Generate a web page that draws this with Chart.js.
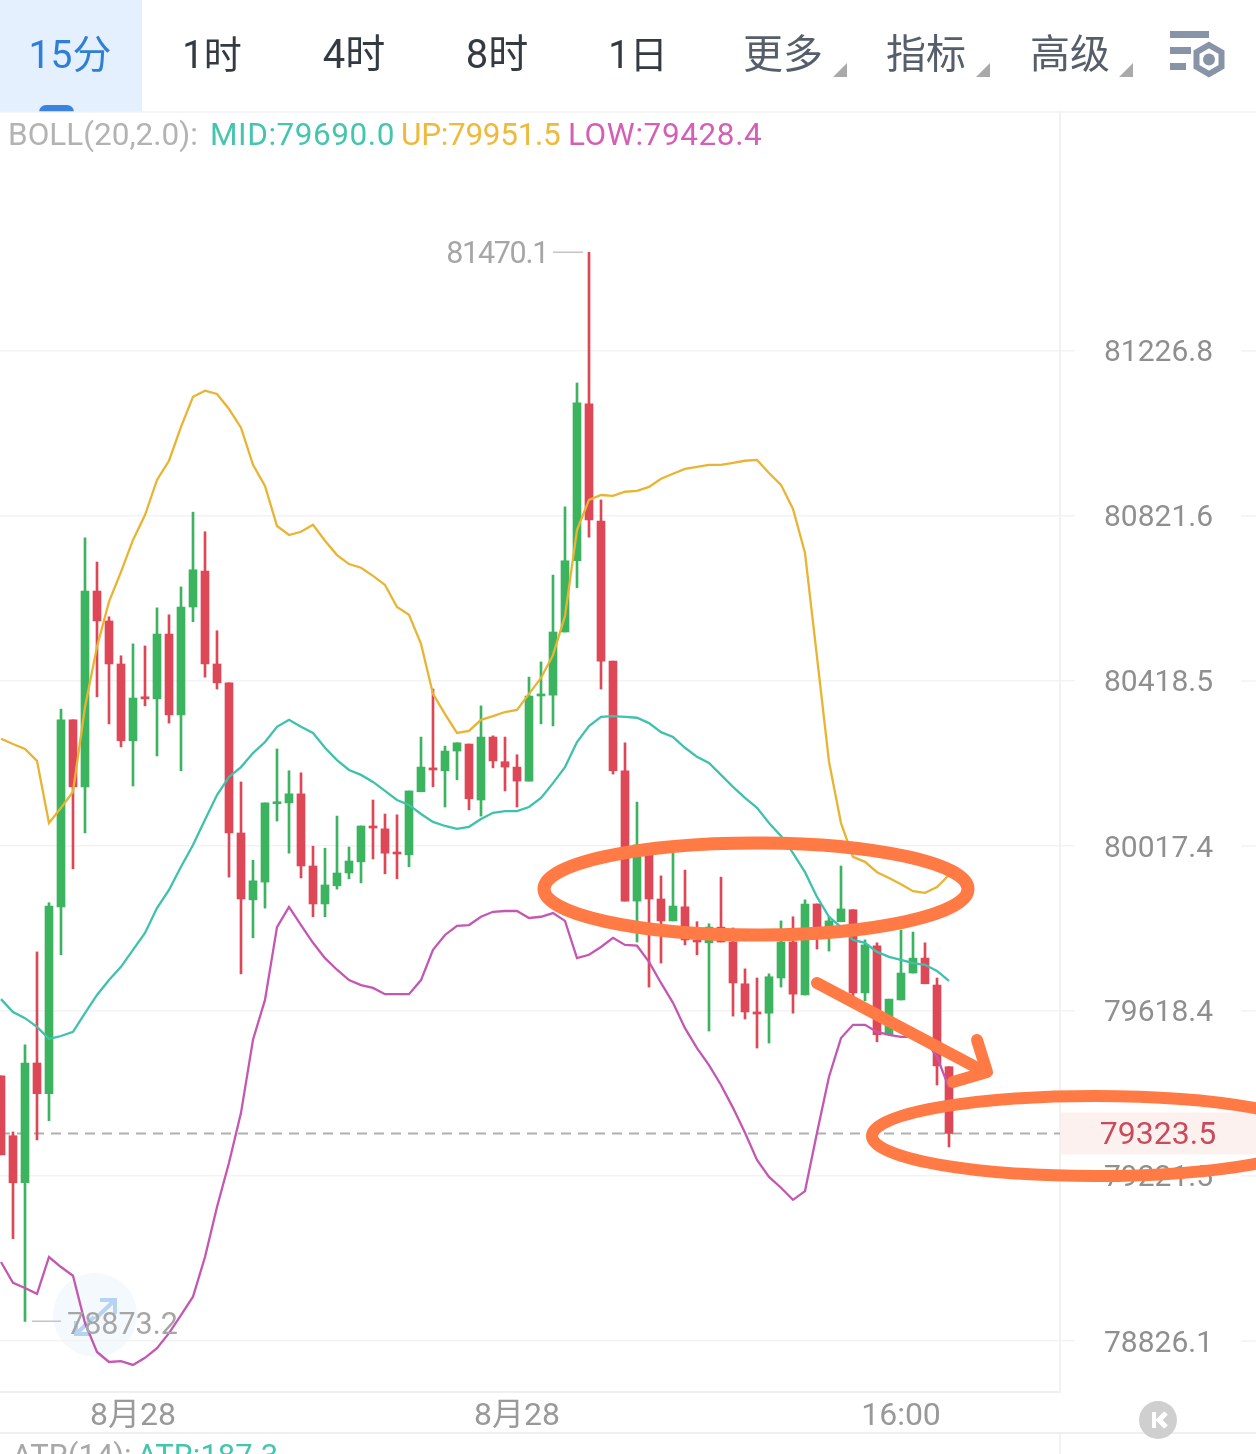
<!DOCTYPE html>
<html><head><meta charset="utf-8">
<script src="https://cdn.jsdelivr.net/npm/chart.js@4/dist/chart.umd.min.js"></script>
<style>
html,body{margin:0;padding:0;background:#fff;width:1256px;height:1454px;overflow:hidden}
#wrap{position:relative;width:1256px;height:1454px;overflow:hidden;font-family:Roboto,"Noto Sans CJK SC",sans-serif}
#c{position:absolute;left:0;top:0;z-index:2}
.under{position:absolute;left:0;top:0;z-index:1}
.over{position:absolute;left:0;top:0;z-index:4;pointer-events:none}
.tab{position:absolute;top:27px;height:56px;line-height:56px;font-size:40px;transform:translateX(-50%);white-space:nowrap;color:#333a42;z-index:3}
.tab.more{color:#555e6a}
.leg{position:absolute;top:115px;line-height:40px;font-size:31.5px;white-space:nowrap;z-index:3}
.atr{position:absolute;top:1437px;line-height:38px;font-size:31px;white-space:nowrap;z-index:3}
</style></head><body>
<div id="wrap">
<svg class="under" width="1256" height="1454">
  <rect x="0" y="0" width="142" height="112" fill="#e4f0fd"/>
  <path d="M39 112V112a7 7 0 0 1 7-7h21a7 7 0 0 1 7 7z" fill="#3b83de"/>
  <circle cx="95" cy="1315" r="42" fill="#f4f9fe"/>
  <path d="M100 1300h15v14M115 1300l-20 19" fill="none" stroke="#b7d3f3" stroke-width="4"/>
  <path d="M76 1321v13h14M76 1334l18-17" fill="none" stroke="#b7d3f3" stroke-width="4"/>
</svg>
<canvas id="c" width="1256" height="1454"></canvas>
<div class="tab" style="left:70px;color:#2f7fd6;font-size:39px">15分</div>
<div class="tab" style="left:212px;font-size:38px">1时</div>
<div class="tab" style="left:354px">4时</div>
<div class="tab" style="left:497px">8时</div>
<div class="tab" style="left:638px;font-size:38px">1日</div>
<div class="tab more" style="left:783px">更多</div>
<div class="tab more" style="left:926px">指标</div>
<div class="tab more" style="left:1070px">高级</div>
<div class="leg" style="left:8px;color:#b3b3b3">BOLL(20,2.0):</div>
<div class="leg" style="left:210px;color:#45c5ae;letter-spacing:.55px">MID:79690.0</div>
<div class="leg" style="left:401px;color:#efb93c;letter-spacing:-.3px">UP:79951.5</div>
<div class="leg" style="left:568px;color:#d45fb6;letter-spacing:.6px">LOW:79428.4</div>
<div class="atr" style="left:12px;color:#a8a8a8">ATR(14):</div>
<div class="atr" style="left:137px;color:#45c5ae">ATR:187.3</div>
<svg class="over" width="1256" height="1454">
  <path d="M833 77h14v-14z M976 77h14v-14z M1119 77h14v-14z" fill="#a9a9a9"/>
  <g fill="#8793a6">
    <rect x="1170" y="31" width="39" height="7"/>
    <rect x="1170" y="47" width="21" height="7"/>
    <rect x="1170" y="63" width="16" height="7"/>
    <circle cx="1209" cy="59.5" r="6"/>
  </g>
  <path d="M1209 45l12.5 7.2v14.6L1209 74l-12.5-7.2V52.200z" fill="none" stroke="#8793a6" stroke-width="6"/>
  <path d="M0 112H1256" stroke="#f2f2f2" stroke-width="1.500"/>
  <path d="M0 1433H1256" stroke="#efefef" stroke-width="2"/>
  <path d="M1060 1434V1454" stroke="#f2f2f2" stroke-width="2"/>
  <circle cx="1158" cy="1420" r="19" fill="#cfcfcf"/>
  <path d="M1152 1412v16h4v-16z" fill="#fff"/>
  <path d="M1166 1413l-7 7 7 7" fill="none" stroke="#fff" stroke-width="5"/>
  <g fill="none" stroke="#ff7a45" stroke-linecap="round" stroke-linejoin="round">
    <ellipse cx="756" cy="889" rx="212" ry="46" stroke-width="13"/>
    <ellipse cx="1095" cy="1136" rx="223" ry="40" stroke-width="12"/>
    <path d="M817 983L985 1072" stroke-width="12"/>
    <path d="M977 1040L987 1072L953 1082" stroke-width="12"/>
  </g>
</svg>
</div>
<script>
const opens=[79462,79318,79205,79493,79419,79870,80324,80161,80638,80565,80460,80273,80380,80375,80533,80336,80599,80687,80460,80414,80049,79887,79930,80120,80122,80144,79969,79877,79921,79952,79979,80066,80059,80002,79996,80149,80207,80200,80248,80265,80129,80282,80222,80209,80175,80382,80384,80538,80712,81097,80809,80467,80200,79884,80020,79889,79836,79870,79790,79783,79821,79785,79684,79616,79613,79698,79785,79657,79877,79819,79834,79863,79662,79776,79561,79645,79710,79746,79681,79484];
const highs=[79462,79327,79537,79761,79880,80350,80324,80768,80709,80575,80480,80509,80504,80597,80580,80648,80831,80783,80541,80414,80173,79983,80122,80253,80200,80195,80017,80012,80090,80015,80066,80129,80095,80093,80151,80282,80399,80260,80268,80265,80358,80285,80282,80239,80428,80465,80677,80844,81148,81470.1,80861,80467,80268,80124,80020,79945,80008,79959,79834,79829,79942,79819,79720,79698,79708,79836,79846,79887,79877,79846,79969,79863,79790,79783,79647,79814,79809,79783,79698,79484];
const lows=[79272,79071,78873.2,79308,79354,79754,79962,80049,80380,80314,80258,80163,80358,80236,80316,80200,80563,80428,80399,79942,79708,79795,79867,80078,80000,79940,79846,79846,79913,79938,79928,79986,79950,79938,79967,80149,80161,80112,80178,80105,80090,80207,80151,80112,80175,80314,80309,80538,80646,80770,80399,80192,79884,79785,79676,79734,79836,79778,79754,79570,79785,79606,79599,79529,79541,79676,79613,79657,79768,79763,79834,79652,79643,79544,79561,79645,79710,79684,79440,79291];
const closes=[79272,79205,79493,79419,79872,80324,80161,80638,80565,80460,80273,80377,80375,80533,80336,80599,80690,80460,80414,80049,79889,79933,80122,80124,80144,79969,79877,79923,79952,79981,80066,80061,80000,79998,80151,80209,80202,80248,80268,80132,80282,80224,80209,80175,80382,80387,80538,80712,81099,80812,80467,80200,79884,80020,79889,79836,79872,79790,79785,79821,79785,79686,79616,79611,79701,79785,79659,79877,79819,79836,79865,79662,79778,79561,79647,79710,79746,79684,79486,79323.5];
const bollUp=[80278,80265,80253,80224,80073,80110,80149,80355,80502,80612,80685,80763,80824,80910,80957,81040,81114,81129,81121,81084,81038,80947,80895,80797,80775,80783,80800,80761,80726,80704,80695,80675,80653,80599,80580,80509,80387,80338,80292,80297,80324,80333,80343,80348,80387,80426,80482,80577,80787,80861,80873,80871,80881,80883,80893,80913,80925,80937,80942,80947,80947,80952,80957,80959,80927,80898,80839,80731,80477,80222,80073,79991,79979,79954,79940,79925,79908,79904,79918,79947];
const bollMid=[79647,79616,79601,79580,79551,79558,79568,79613,79657,79693,79725,79766,79807,79867,79911,79967,80020,80081,80141,80185,80209,80243,80270,80307,80324,80307,80292,80256,80226,80202,80190,80173,80151,80129,80117,80095,80076,80066,80059,80064,80083,80098,80102,80102,80112,80134,80170,80209,80270,80309,80331,80333,80331,80329,80316,80294,80282,80256,80234,80219,80190,80161,80134,80110,80073,80042,80000,79954,79894,79846,79821,79790,79783,79761,79749,79742,79734,79730,79715,79691];
const bollLow=[79015,78965,78953,78939,79027,79003,78982,78869,78800,78776,78778,78769,78786,78809,78845,78888,78932,79027,79147,79253,79373,79549,79645,79821,79870,79826,79783,79746,79718,79693,79681,79674,79659,79659,79659,79693,79766,79802,79824,79826,79846,79858,79860,79860,79843,79846,79855,79836,79746,79754,79773,79795,79778,79776,79737,79686,79638,79577,79529,79488,79440,79385,79325,79260,79219,79193,79164,79185,79325,79460,79553,79585,79585,79568,79561,79556,79556,79549,79508,79433];
const yTickValues=[78826.1,79221.5,79618.4,80017.4,80418.5,80821.6,81226.8];
const xTickIndex=[11,43,75];
const xTickLabels=['8月28','8月28','16:00'];
const lastPrice=79323.5;

const UP='#3cb35f', DOWN='#dd4756';
const idx=opens.map((_,i)=>i);
const cols=idx.map(i=>closes[i]>=opens[i]?UP:DOWN);
const series=a=>a.map((v,i)=>({x:i,y:v}));
const lineDs=(label,data,color)=>({type:'line',label,data:series(data),borderColor:color,borderWidth:2.3,pointRadius:0,tension:0,fill:false,order:1});

const annot={id:'annot',
  beforeDatasetsDraw(ch){
    const {ctx,scales:{y},chartArea:a}=ch;
    ctx.save();
    const py=y.getPixelForValue(lastPrice);
    ctx.strokeStyle='#b0b0b0';ctx.lineWidth=2;ctx.setLineDash([10,7]);
    ctx.beginPath();ctx.moveTo(a.left,py);ctx.lineTo(a.right,py);ctx.stroke();
    ctx.restore();
  },
  beforeDraw(ch){
    const {ctx,scales:{y},chartArea:a}=ch;
    ctx.save();
    const py=y.getPixelForValue(lastPrice);
    ctx.fillStyle='#fdf1f0';ctx.fillRect(a.right,py-21,1256-a.right,42);
    ctx.strokeStyle='#f3f3f3';ctx.lineWidth=1.5;
    yTickValues.forEach(v=>{const p=y.getPixelForValue(v);ctx.beginPath();ctx.moveTo(1241,p);ctx.lineTo(1256,p);ctx.stroke();});
    ctx.restore();
  },
  afterDraw(ch){
    const {ctx,scales:{x,y}}=ch;
    const hi=Math.max(...highs), lo=Math.min(...lows);
    const hx=x.getPixelForValue(highs.indexOf(hi)), lx=x.getPixelForValue(lows.indexOf(lo));
    const hy=y.getPixelForValue(hi), ly=y.getPixelForValue(lo);
    ctx.save();
    ctx.strokeStyle='#c4c4c4';ctx.lineWidth=1.5;
    ctx.beginPath();ctx.moveTo(hx-6,hy);ctx.lineTo(hx-36,hy);ctx.moveTo(lx+7,ly);ctx.lineTo(lx+36,ly);ctx.stroke();
    ctx.font='400 30.5px Roboto';ctx.fillStyle='#a6a6a6';ctx.textBaseline='middle';
    ctx.letterSpacing='-1.3px';
    ctx.textAlign='right';ctx.fillText(hi.toFixed(1),hx-41,hy+3);
    ctx.letterSpacing='0px';
    ctx.textAlign='left';ctx.fillText(lo.toFixed(1),lx+42,ly+5);
    ctx.font='400 32px Roboto';ctx.fillStyle='#c94b5c';ctx.textAlign='center';
    ctx.fillText(lastPrice.toFixed(1),1158,y.getPixelForValue(lastPrice)+3);
    ctx.restore();
  }
};

new Chart(document.getElementById('c'),{
  data:{datasets:[
    lineDs('UP',bollUp,'#e9b433'),
    lineDs('MID',bollMid,'#3fc1ad'),
    lineDs('LOW',bollLow,'#c457b2'),
    {type:'bar',label:'body',data:idx.map(i=>({x:i,y:[opens[i],closes[i]]})),backgroundColor:cols,barThickness:8,minBarLength:2,grouped:false,order:2},
    {type:'bar',label:'wick',data:idx.map(i=>({x:i,y:[lows[i],highs[i]]})),backgroundColor:cols,barThickness:2,grouped:false,order:3}
  ]},
  options:{
    responsive:false,animation:false,devicePixelRatio:1,
    layout:{padding:{top:112,bottom:22,left:0,right:0}},
    plugins:{legend:{display:false},tooltip:{enabled:false}},
    scales:{
      x:{type:'linear',position:'bottom',offset:false,min:-1/12,max:88.25,
        afterBuildTicks:s=>{s.ticks=xTickIndex.map(v=>({value:v}));},
        afterFit:s=>{s.height=40;},
        grid:{display:false,drawTicks:false,offset:false},
        border:{display:true,color:'#efefef',width:2},
        ticks:{autoSkip:false,maxRotation:0,padding:6,color:'#999',
          font:{family:'Roboto,"Noto Sans CJK SC"',size:32},
          callback:v=>xTickLabels[xTickIndex.indexOf(v)]}},
      y:{type:'logarithmic',position:'right',min:78704.4,max:81817.1,
        afterBuildTicks:s=>{s.ticks=yTickValues.map(v=>({value:v}));},
        afterFit:s=>{s.width=196;},
        grid:{color:'#f3f3f3',lineWidth:1.5,tickLength:15,drawOnChartArea:true},
        border:{display:true,color:'#f1f1f1',width:2},
        ticks:{autoSkip:false,padding:29,labelOffset:3,color:'#8f8f8f',
          font:{family:'Roboto',size:30},
          callback:v=>v.toFixed(1)}}
    }
  },
  plugins:[annot]
});
</script>
</body></html>
